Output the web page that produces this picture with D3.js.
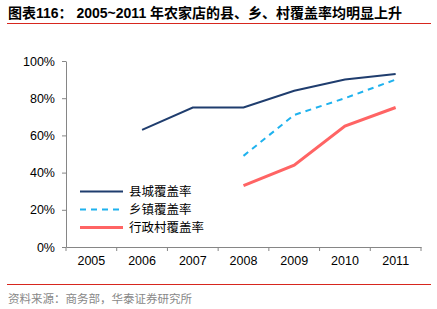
<!DOCTYPE html>
<html><head><meta charset="utf-8">
<script src="https://cdn.jsdelivr.net/npm/d3@7"></script>
<style>body{margin:0;background:#fff}svg{display:block}</style>
</head><body>
<svg id="c" width="437" height="309"></svg>
<script>
const years = ["2005","2006","2007","2008","2009","2010","2011"];
const countyRate = [null, 0.63, 0.75, 0.75, 0.84, 0.90, 0.93];
const townRate = [null, null, null, 0.49, 0.71, 0.80, 0.90];
const villageRate = [null, null, null, 0.33, 0.44, 0.65, 0.75];
const seriesNames = ["县城覆盖率", "乡镇覆盖率", "行政村覆盖率"];
const yTicks = [0, 0.2, 0.4, 0.6, 0.8, 1.0];

const svg = d3.select("#c");
const L = 66, R = 421, T = 61, B = 247;
const x = d3.scaleBand().domain(years).range([L, R]);
const y = d3.scaleLinear().domain([0, 1]).range([B, T]);

// title
svg.append("text").attr("x", 8).attr("y", 18).attr("font-family", "Arial, 'Noto Sans CJK SC', sans-serif")
  .attr("font-size", 14).attr("font-weight", "bold").attr("fill", "#000")
  .text("图表116：  2005~2011 年农家店的县、乡、村覆盖率均明显上升");
svg.append("line").attr("x1", 7).attr("x2", 431).attr("y1", 23.5).attr("y2", 23.5).attr("stroke", "#d7261e").attr("stroke-width", 1.2);
svg.append("line").attr("x1", 7).attr("x2", 431).attr("y1", 284.5).attr("y2", 284.5).attr("stroke", "#d7261e").attr("stroke-width", 1.2);
svg.append("text").attr("x", 8).attr("y", 303).attr("font-family", "'Noto Sans CJK SC', sans-serif")
  .attr("font-size", 11.5).attr("fill", "#888").text("资料来源：商务部，华泰证券研究所");

// axes
const yAxis = d3.axisLeft(y).tickValues(yTicks).tickFormat(d3.format(".0%")).tickSize(4).tickSizeOuter(0);
const gy = svg.append("g").attr("transform", `translate(${L},0)`).call(yAxis);
gy.select(".domain").attr("stroke", "#868686");
gy.selectAll(".tick line").attr("stroke", "#868686");
gy.selectAll("text").attr("font-family", "Arial, 'Liberation Sans', sans-serif").attr("font-size", 12.5).attr("fill", "#000").attr("dx", "-4");

const xAxis = d3.axisBottom(x).tickSize(0);
const gx = svg.append("g").attr("transform", `translate(0,${B})`).call(xAxis);
gx.select(".domain").attr("stroke", "#868686");
gx.selectAll("text").attr("font-family", "Arial, 'Liberation Sans', sans-serif").attr("font-size", 12.5).attr("fill", "#000").attr("dy", "1.2em");
// category separators
const seps = years.map((d) => x(d)).concat([R]);
svg.append("g").selectAll("line").data(seps).join("line")
  .attr("x1", d => d).attr("x2", d => d).attr("y1", B).attr("y2", B + 4).attr("stroke", "#868686");

const cx = d => x(d) + x.bandwidth() / 2;
const line = d3.line().defined(d => d.v != null).x(d => cx(d.year)).y(d => y(d.v));
const series = [
  {name: seriesNames[0], vals: countyRate, color: "#1f3d6e", w: 2, dash: null},
  {name: seriesNames[1], vals: townRate, color: "#1fb2ee", w: 2, dash: "6,5"},
  {name: seriesNames[2], vals: villageRate, color: "#ff6464", w: 3, dash: null}
];
series.forEach(s => {
  svg.append("path").datum(years.map((yr, i) => ({year: yr, v: s.vals[i]})))
    .attr("d", line).attr("fill", "none").attr("stroke", s.color).attr("stroke-width", s.w)
    .attr("stroke-dasharray", s.dash);
});

// legend
const lg = svg.append("g");
series.forEach((s, i) => {
  const ly = 191.5 + i * 18;
  lg.append("line").attr("x1", 80).attr("x2", 123).attr("y1", ly).attr("y2", ly)
    .attr("stroke", s.color).attr("stroke-width", s.w).attr("stroke-dasharray", s.dash);
  lg.append("text").attr("x", 129).attr("y", ly + 4.5).attr("font-family", "'Noto Sans CJK SC', sans-serif")
    .attr("font-size", 12.5).attr("fill", "#000").text(s.name);
});
</script>
</body></html>
